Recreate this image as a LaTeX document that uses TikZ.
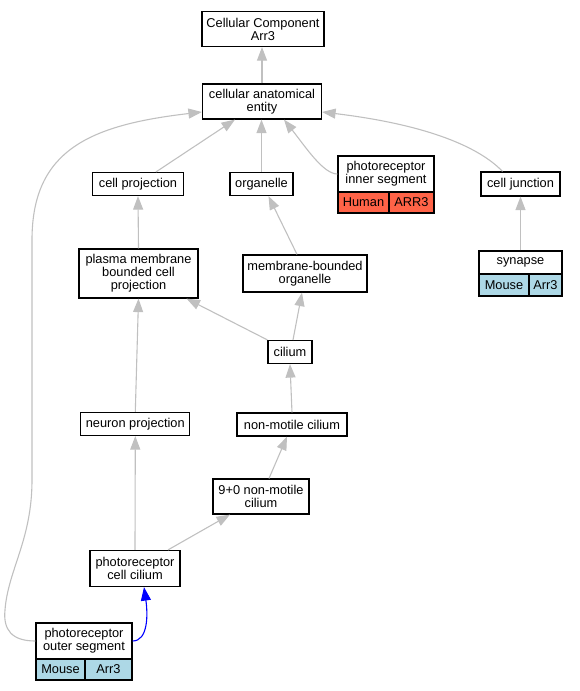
\documentclass[tikz,border=0pt]{standalone}
\usepackage{fontspec}
\setmainfont{Liberation Sans}
\usetikzlibrary{arrows.meta}
\definecolor{edgegray}{HTML}{C0C0C0}
\definecolor{tomatored}{HTML}{FF6347}
\definecolor{lblue}{HTML}{ADD8E6}
\definecolor{pureblue}{HTML}{0000FF}
\begin{document}
\begin{tikzpicture}[x=1pt,y=-1pt,
  box/.style={draw=black, line width=1.2pt, fill=white, inner sep=0pt, align=center,
    font=\fontsize{12.8}{13}\selectfont},
  human/.style={box, fill=tomatored},
  mouse/.style={box, fill=lblue},
  edge/.style={draw=edgegray, line width=1.1pt, -{Triangle[length=13.5pt,width=10pt]}},
  bedge/.style={draw=pureblue, line width=1.1pt, -{Triangle[length=13.5pt,width=10pt]}}]
\useasboundingbox (0,0) rectangle (579,691);

\node[box, minimum width=122pt, minimum height=35pt] (cc) at (263,29) {Cellular Component\\Arr3};
\node[box, minimum width=119pt, minimum height=35pt] (cae) at (262,101.5) {cellular anatomical\\entity};
\node[box, minimum width=91pt, minimum height=23pt] (cp) at (138,184) {cell projection};
\node[box, minimum width=63pt, minimum height=23pt] (org) at (261.5,184) {organelle};
\node[box, minimum width=96pt, minimum height=36pt] (pis) at (386,174) {photoreceptor\\inner segment};
\node[human, minimum width=51pt, minimum height=21pt] (pish) at (363.5,202.5) {Human};
\node[human, minimum width=45pt, minimum height=21pt] (pisg) at (411.5,202.5) {ARR3};
\node[box, minimum width=79pt, minimum height=24pt] (cj) at (520.5,184) {cell junction};
\node[box, minimum width=119pt, minimum height=49pt] (pm) at (138.5,273.5) {plasma membrane\\bounded cell\\projection};
\node[box, minimum width=124pt, minimum height=37pt] (mbo) at (305,273.5) {membrane-bounded\\organelle};
\node[box, minimum width=83pt, minimum height=23pt] (syn) at (520.5,262.5) {synapse};
\node[mouse, minimum width=50pt, minimum height=22pt] (synm) at (504,285) {Mouse};
\node[mouse, minimum width=33pt, minimum height=22pt] (syng) at (545.5,285) {Arr3};
\node[box, minimum width=44pt, minimum height=23pt] (cil) at (290,352) {cilium};
\node[box, minimum width=109pt, minimum height=23pt] (np) at (135.3,424) {neuron projection};
\node[box, minimum width=110pt, minimum height=23pt] (nmc) at (292,424.5) {non-motile cilium};
\node[box, minimum width=96pt, minimum height=35pt] (n90) at (261,496.5) {9+0 non-motile\\cilium};
\node[box, minimum width=90pt, minimum height=36pt] (pcc) at (135,568.5) {photoreceptor\\cell cilium};
\node[box, minimum width=96pt, minimum height=36pt] (pos) at (84,641) {photoreceptor\\outer segment};
\node[mouse, minimum width=49pt, minimum height=21pt] (posm) at (60.5,669.5) {Mouse};
\node[mouse, minimum width=47pt, minimum height=21pt] (posg) at (108.5,669.5) {Arr3};

\draw[edge] (cae.north) -- (cae.north |- cc.south);
\draw[edge] ([xshift=18pt]cp.north) -- ([xshift=-27pt]cae.south);
\draw[edge] (org.north) -- (org.north |- cae.south);
\draw[edge] (pis.west) .. controls +(-14,0) and +(22,28) .. ([xshift=22pt]cae.south);
\draw[edge] ([xshift=-18pt]cj.north) .. controls (480,148) and (430,125) .. ([yshift=-10.5pt]cae.east);
\draw[edge] (pos.west) .. controls (12,641) and (3,630) .. (5,610)
  .. controls (8,570) and (32,540) .. (32,480) -- (32,240)
  .. controls (32,150) and (90,125) .. ([yshift=-10.5pt]cae.west);
\draw[edge] (pm.north) -- (cp.south);
\draw[edge] ([xshift=-8pt]mbo.north) -- ([xshift=7pt]org.south);
\draw[edge] (syn.north) -- (syn.north |- cj.south);
\draw[edge] (cil.north west) -- ([xshift=48pt]pm.south);
\draw[edge] ([xshift=3pt]cil.north) -- ([xshift=-3pt]mbo.south);
\draw[edge] (np.north) -- (pm.south);
\draw[edge] (nmc.north) -- (cil.south);
\draw[edge] ([xshift=8pt]n90.north) -- ([xshift=-5pt]nmc.south);
\draw[edge] (pcc.north) -- (np.south);
\draw[edge] ([xshift=33pt]pcc.north) -- ([xshift=-31pt]n90.south);
\draw[bedge] (pos.east) .. controls (148,641) and (148,615) .. ([xshift=9pt]pcc.south);
\end{tikzpicture}
\end{document}
